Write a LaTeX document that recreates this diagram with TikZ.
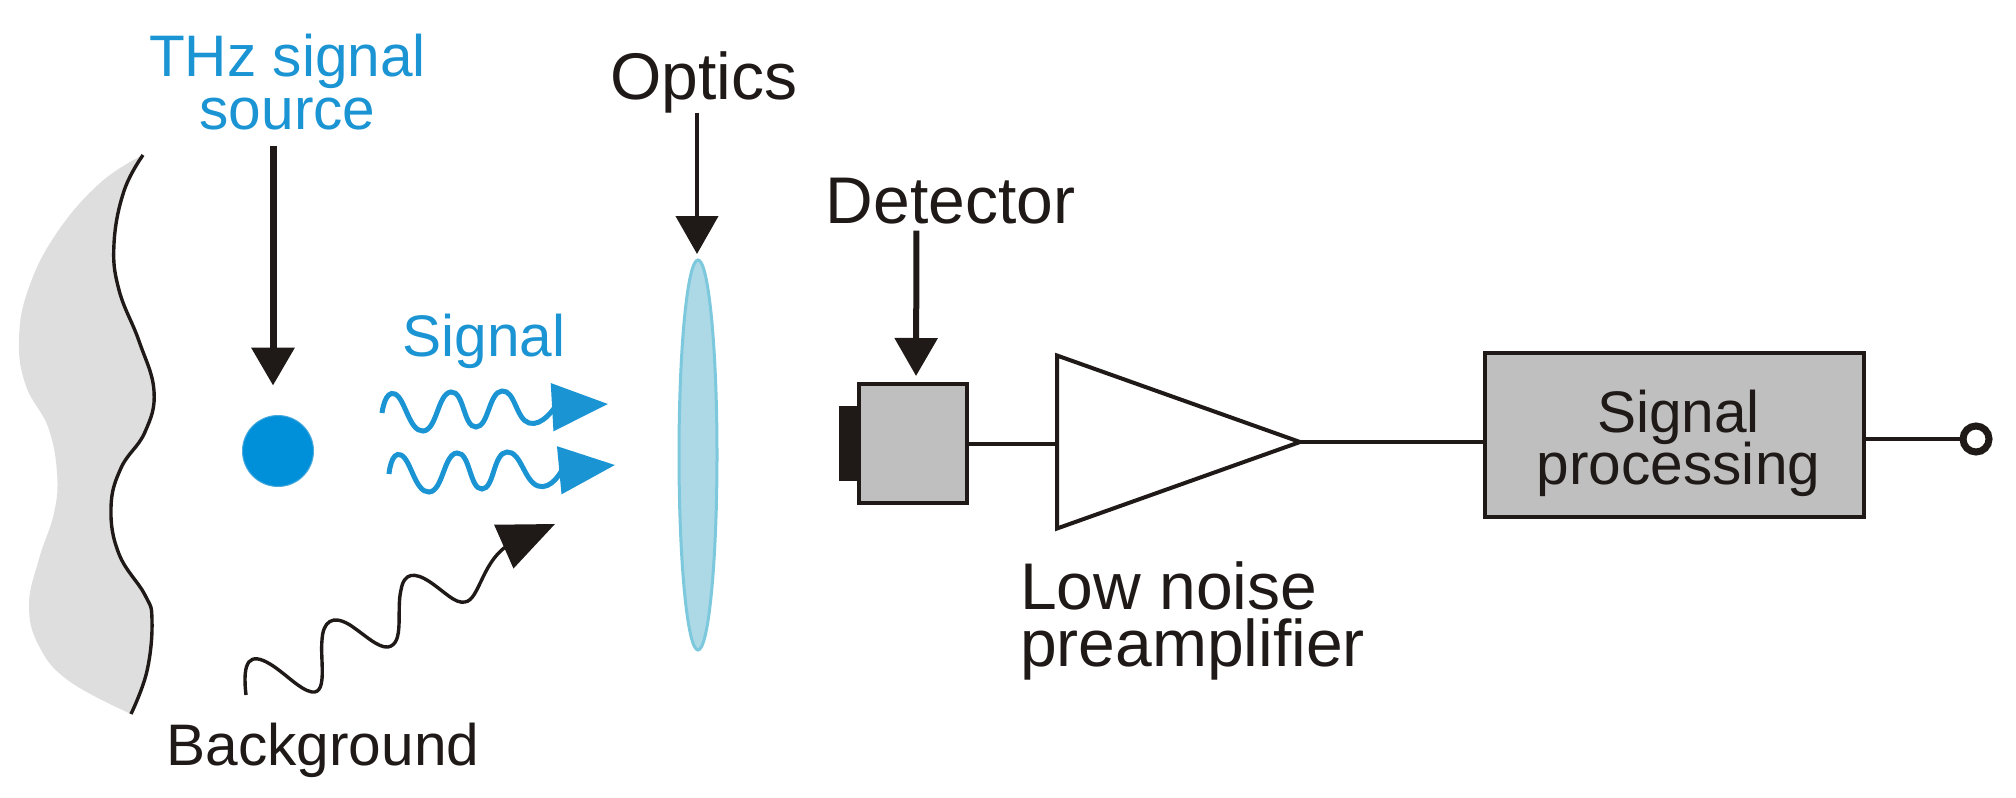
\documentclass[tikz,border=0pt]{standalone}
\usepackage{fontspec}
\setmainfont{Liberation Sans}
\usetikzlibrary{shapes.geometric, arrows.meta, calc}
\definecolor{ink}{HTML}{1F1A17}
\definecolor{thzblue}{HTML}{1B94D3}
\definecolor{srcblue}{HTML}{0090DA}
\definecolor{lensfill}{HTML}{ADD8E6}
\definecolor{lensedge}{HTML}{7CC8DC}
\newcommand{\tightlines}{\setlength{\lineskiplimit}{-20pt}}
\tikzset{
  small/.style={inner sep=0, outer sep=0, font=\fontsize{29.3}{26.5}\selectfont\tightlines},
  large/.style={inner sep=0, outer sep=0, font=\fontsize{33}{28.5}\selectfont\tightlines},
  wire/.style={draw=ink, line width=2pt},
  pointer/.style={draw=ink, line width=2.2pt, -{Triangle[length=19pt, width=21pt]}},
  heavy/.style={pointer, line width=3.5pt},
  wave/.style={draw=thzblue, line width=2.5pt, -{Triangle[length=28pt, width=23.5pt]}},
  noise/.style={draw=ink, line width=1.7pt, -{Triangle[length=28pt, width=23.5pt]}},
  block/.style={draw=ink, line width=2pt, fill=black!25, inner sep=0, outer sep=0},
}
\begin{document}
\begin{tikzpicture}[x=0.5pt, y=-0.5pt]
  \useasboundingbox (0,0) rectangle (2016,797);
  % wall behind the source
  \fill[black!13] plot[smooth, tension=0.7] coordinates {(143,155) (124,191) (114,244) (119,290) (139,341) (154,391) (145,432) (121,468) (111,508) (119,554) (145,595) (152,620) (147,671) (131,714)}
    -- plot[smooth, tension=0.7] coordinates {(131,714) (69,681) (39,646) (29,605) (39,559) (54,513) (57,473) (48,427) (26,386) (19,341) (28,290) (56,234) (100,183) (143,155)} -- cycle;
  \draw[ink, line width=1.7pt] plot[smooth, tension=0.7] coordinates {(143,155) (124,191) (114,244) (119,290) (139,341) (154,391) (145,432) (121,468) (111,508) (119,554) (145,595) (152,620) (147,671) (131,714)};

  % nodes
  \node[small, text=thzblue, align=center] (thz) at (287.5,82) {THz signal\\source};
  \node[circle, fill=srcblue, draw=thzblue!80, line width=0.5pt, minimum size=35.5pt, inner sep=0, outer sep=0] (source) at (278,451) {};
  \node[small, text=thzblue, anchor=base] (signal) at (484,356) {Signal};
  \node[small, text=ink, anchor=base] (background) at (323,765) {Background};
  \node[large, text=ink, anchor=base] (optics) at (704,99) {Optics};
  \node[ellipse, fill=lensfill, draw=lensedge, line width=1.5pt, minimum width=19pt, minimum height=195pt, inner sep=0, outer sep=0] (lens) at (698,455) {};
  \node[large, text=ink, anchor=base] (detector) at (950.5,223) {Detector};
  \node[fill=ink, minimum width=10pt, minimum height=37.5pt, inner sep=0, outer sep=0] (window) at (849,443.5) {};
  \node[block, minimum width=54pt, minimum height=59.5pt] (det) at (913,443.5) {};
  \node[isosceles triangle, isosceles triangle stretches, draw=ink, fill=white, line width=2pt, minimum width=86.5pt, minimum height=121.5pt, inner sep=0, outer sep=0, anchor=lower side] (amp) at (1057,442) {};
  \node[large, text=ink, align=left, anchor=west] (amplabel) at (1020,621) {Low noise\\preamplifier};
  \node[block, minimum width=189.5pt, minimum height=82pt] (proc) at (1674.5,435) {};
  \node[inner sep=0, outer sep=0, font=\fontsize{29.3}{26}\selectfont\tightlines, text=ink, align=center] (proclabel) at (1678.5,443) {Signal\\processing};
  \node[circle, draw=ink, fill=white, line width=3.5pt, minimum size=13pt, inner sep=0, outer sep=0] (out) at (1976,439) {};

  % labelled pointers
  \draw[heavy, shorten <=8pt, shorten >=15pt] ([xshift=-7.25pt]thz.south) -- ([xshift=-2.5pt]source.north);
  \draw[pointer, shorten >=3pt] ([xshift=-3.5pt]optics.south) -- ([xshift=-0.5pt]lens.north);
  \draw[pointer, line width=3pt, shorten <=3.5pt, shorten >=4pt] ([xshift=-17pt]detector.south) -- ([xshift=1.5pt]det.north);

  % radiation
  \coordinate (waveatip) at (608,404);
  \coordinate (wavebtip) at (615,465);
  \coordinate (noisefoot) at (246,695);
  \coordinate (noisetip) at (555,524);
  \draw[wave] plot[smooth, tension=0.9] coordinates {(382,413) (395,394) (423,431) (451,392) (476,427) (502,391) (529,423) (555,407)} -- (waveatip);
  \draw[wave] plot[smooth, tension=0.9] coordinates {(389,474) (401,455) (429,492) (457,453) (482,489) (507,452) (538,486) (562,470)} -- (wavebtip);
  \draw[noise] (noisefoot) .. controls (242,660) and (250,652) .. (270,664)
    .. controls (285,673) and (300,690) .. (312,692)
    .. controls (328,694) and (320,660) .. (322,640)
    .. controls (323,622) and (332,614) .. (350,625)
    .. controls (365,635) and (378,648) .. (388,647)
    .. controls (405,644) and (396,610) .. (401,590)
    .. controls (404,572) and (415,572) .. (430,582)
    .. controls (445,592) and (455,604) .. (465,602)
    .. controls (480,600) and (482,558) .. (512,543) -- (noisetip);

  % signal chain
  \draw[wire] (det.east) -- (det.east -| amp.lower side);
  \draw[wire] (amp.apex) -- (amp.apex -| proc.west);
  \draw[wire] (proc.east |- out) -- (out);
\end{tikzpicture}
\end{document}
